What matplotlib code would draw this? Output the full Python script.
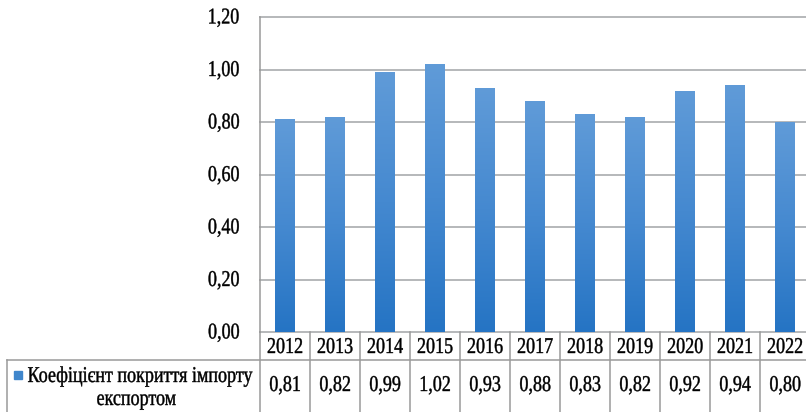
import matplotlib
matplotlib.use("Agg")
import matplotlib.pyplot as plt
import numpy as np
from matplotlib.lines import Line2D
from matplotlib.patches import Rectangle
from matplotlib.colors import LinearSegmentedColormap
from matplotlib.patheffects import AbstractPathEffect
import matplotlib.transforms as mtransforms

years = ["2012", "2013", "2014", "2015", "2016", "2017", "2018", "2019", "2020", "2021", "2022"]
values = [0.81, 0.82, 0.99, 1.02, 0.93, 0.88, 0.83, 0.82, 0.92, 0.94, 0.80]
series_label_lines = ["Коефіцієнт покриття імпорту", "експортом"]
yticks = [0.0, 0.2, 0.4, 0.6, 0.8, 1.0, 1.2]

W, H = 806, 412
FONT = ["Liberation Serif", "DejaVu Serif"]
FS = 13
GRID = "#b5b8ba"
LINE = "#9a9a9a"


class Stretch(AbstractPathEffect):
    """Stretch glyphs vertically (from baseline) and embolden slightly."""
    def __init__(self, sy=1.25, lw=0.3):
        super().__init__()
        self.sy = sy
        self.lw = lw

    def draw_path(self, renderer, gc, tpath, affine, rgbFace=None):
        aff = mtransforms.Affine2D().scale(1, self.sy) + affine
        gc0 = renderer.new_gc()
        gc0.copy_properties(gc)
        gc0.set_linewidth(self.lw)
        if rgbFace is not None:
            gc0.set_foreground(rgbFace)
        renderer.draw_path(gc0, tpath, aff, rgbFace)
        gc0.restore()


PE = [Stretch()]

fig = plt.figure(figsize=(W / 100, H / 100), dpi=100)
ax_left, ax_right, ax_top, ax_bottom = 260, 810, 17, 332
ax = fig.add_axes([ax_left / W, 1 - ax_bottom / H, (ax_right - ax_left) / W, (ax_bottom - ax_top) / H])

x = np.arange(len(years))
bars = ax.bar(x, values, width=0.4, color="#3f86cc", edgecolor="none", zorder=3)

cmap = LinearSegmentedColormap.from_list("g", ["#2574c4", "#4589d0", "#609bd8"])
grad = np.linspace(0, 1, 256).reshape(-1, 1)
for b in bars:
    x0, y0 = b.get_x(), b.get_y()
    w, h = b.get_width(), b.get_height()
    im = ax.imshow(grad, extent=[x0, x0 + w, y0, y0 + h], origin="lower", cmap=cmap,
                   aspect="auto", zorder=3)
    im.set_clip_path(b)

ax.set_xlim(-0.5, len(years) - 0.5)
ax.set_ylim(0, 1.2)
ax.set_yticks(yticks)
ax.set_yticklabels([f"{v:.2f}".replace(".", ",") for v in yticks], fontfamily=FONT, fontsize=FS)
for lab in ax.get_yticklabels():
    lab.set_path_effects(PE)
    lab.set_va("center_baseline")
ax.tick_params(axis="y", length=0, pad=15)
ax.set_xticks([])
for t in yticks:
    ax.axhline(t, color=GRID, lw=1.4, zorder=1, clip_on=False)
for s in ["top", "right", "bottom"]:
    ax.spines[s].set_visible(False)
ax.spines["left"].set_color(LINE)
ax.spines["left"].set_linewidth(1.1)

# table below the axis
axh = ax_bottom - ax_top
def ay(py):
    return (ax_bottom - py) / axh

trans = mtransforms.blended_transform_factory(ax.transData, ax.transAxes)
for k in range(len(years) + 1):
    ax.add_line(Line2D([k - 0.5, k - 0.5], [0, ay(H + 5)], transform=trans, color=LINE,
                       lw=1.1, clip_on=False))
for i, (yr, v) in enumerate(zip(years, values)):
    ax.text(i, ay(353), yr, transform=trans, ha="center", va="baseline", fontfamily=FONT,
            fontsize=FS, path_effects=PE)
    ax.text(i, ay(391), f"{v:.2f}".replace(".", ","), transform=trans, ha="center", va="baseline",
            fontfamily=FONT, fontsize=FS, path_effects=PE)

def fx(px):
    return px / W
def fy(py):
    return 1 - py / H

fig.add_artist(Line2D([fx(7), fx(810)], [fy(360), fy(360)], color=LINE, lw=1.1))
fig.add_artist(Line2D([fx(7), fx(7)], [fy(360), fy(H + 5)], color=LINE, lw=1.1))
fig.add_artist(Rectangle((fx(14), fy(379)), 8 / W, 8 / H, color="#3f86cc", transform=fig.transFigure))
fig.text(fx(139), fy(382), series_label_lines[0], ha="center", va="baseline", fontfamily=FONT,
         fontsize=FS, path_effects=PE)
fig.text(fx(136), fy(405), series_label_lines[1], ha="center", va="baseline", fontfamily=FONT,
         fontsize=FS, path_effects=PE)

fig.savefig("out.png", dpi=100)
